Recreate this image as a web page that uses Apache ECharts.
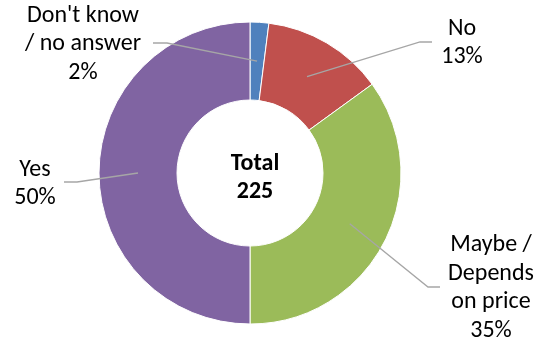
<!DOCTYPE html>
<html>
<head>
<meta charset="utf-8">
<script src="https://cdn.jsdelivr.net/npm/echarts@6/dist/echarts.min.js"></script>
<style>
  html, body { margin: 0; padding: 0; background: #fff; }
  #chart { width: 548px; height: 343px; }
</style>
</head>
<body>
<div id="chart"></div>
<script>
// Survey answers, share of respondents (%)
const categories = ["Don't know\n/ no answer", "No", "Maybe /\nDepends\non price", "Yes"];
const shares = [2, 13, 35, 50];
const colors = ['#4F81BD', '#C0504D', '#9BBB59', '#8064A2'];
const totalLabel = 'Total';
const totalCount = 225;

// Ring geometry (pixels)
const CX = 250, CY = 173, R_IN = 73, R_OUT = 151;
const FONT = "Carlito, Calibri, 'Liberation Sans', Arial, sans-serif";
const FONT_SIZE = 24;
const LINE_H = 28.5;

// Where each label block sits and where its leader line bends
const labelPlacement = [
  { x: 83,  y: 44,  bend: [167, 43],  end: [153, 43] },
  { x: 462, y: 43,  bend: [420, 42],  end: [432, 42] },
  { x: 491, y: 288, bend: [428, 287], end: [440, 287] },
  { x: 35,  y: 184, bend: [77, 182],  end: [64, 182] }
];

// Leader lines start in the middle of the ring at each slice's mid angle
const sum = shares.reduce((a, b) => a + b, 0);
const midAngles = [];
let acc = 0;
shares.forEach(v => {
  midAngles.push(((acc + v / 2) / sum) * 2 * Math.PI);
  acc += v;
});
const rMid = (R_IN + R_OUT) / 2;

const pieData = categories.map((name, i) => ({
  name: name,
  value: shares[i],
  itemStyle: { color: colors[i] }
}));

const ringBase = {
  type: 'pie',
  center: [CX, CY],
  radius: [R_IN, R_OUT],
  startAngle: 90,
  clockwise: true,
  avoidLabelOverlap: false,
  silent: true
};

const chart = echarts.init(document.getElementById('chart'), null, { renderer: 'canvas' });
chart.setOption({
  animation: false,
  backgroundColor: '#fff',
  title: {
    text: totalLabel + '\n' + totalCount,
    left: CX,
    top: CY - LINE_H,
    textAlign: 'center',
    textStyle: { fontFamily: FONT, fontSize: FONT_SIZE, fontWeight: 'bold', color: '#000', lineHeight: LINE_H }
  },
  series: [
    // coloured ring
    Object.assign({}, ringBase, {
      z: 2,
      itemStyle: { borderColor: '#fff', borderWidth: 1 },
      label: { show: false },
      labelLine: { show: false },
      data: pieData
    }),
    // labels and leader lines, layered above the ring
    Object.assign({}, ringBase, {
      z: 3,
      itemStyle: { color: 'rgba(0,0,0,0)', borderWidth: 0 },
      label: {
        show: true,
        position: 'outside',
        formatter: '{b}\n{c}%',
        fontFamily: FONT,
        fontSize: FONT_SIZE,
        lineHeight: LINE_H,
        color: '#000',
        align: 'center'
      },
      labelLine: {
        show: true,
        length: 10,
        length2: 10,
        lineStyle: { color: '#A6A6A6', width: 1.3 }
      },
      labelLayout: function (params) {
        const i = params.dataIndex;
        const p = labelPlacement[i];
        const a = midAngles[i];
        const start = [CX + rMid * Math.sin(a), CY - rMid * Math.cos(a)];
        return {
          x: p.x,
          y: p.y,
          align: 'center',
          verticalAlign: 'middle',
          labelLinePoints: [start, p.bend, p.end]
        };
      },
      data: pieData.map(d => ({ name: d.name, value: d.value, itemStyle: { color: 'rgba(0,0,0,0)' } }))
    })
  ]
});
</script>
</body>
</html>
